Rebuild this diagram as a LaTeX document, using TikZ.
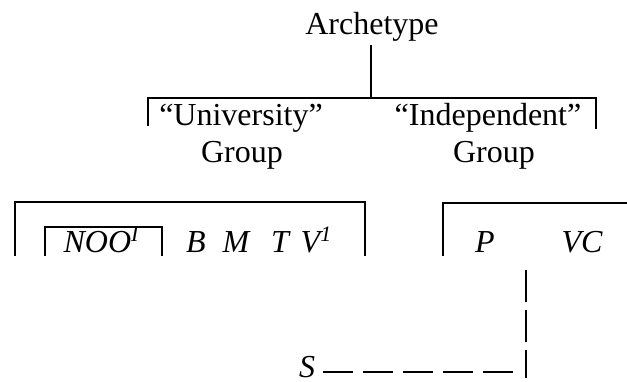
\documentclass[tikz,border=0pt]{standalone}
\usepackage{fontspec}
\setmainfont{Liberation Serif}
\newcommand{\supr}[1]{\raisebox{0.32em}{\fontsize{11}{11}\selectfont #1}}
\begin{document}
\begin{tikzpicture}[x=0.5pt,y=-0.5pt,
  lbl/.style={inner sep=0pt, font=\fontsize{16}{18.5}\selectfont, anchor=base},
  ital/.style={inner sep=0pt, font=\fontsize{16}{18.5}\selectfont\itshape, anchor=base},
  ln/.style={line width=0.8pt},
  dsh/.style={line width=0.8pt, dash pattern=on 15pt off 5pt}]
\useasboundingbox (0,0) rectangle (627,381);
% top level
\node[lbl] (arch) at (372,34) {Archetype};
\coordinate (atop) at (371,45);
\coordinate (amid) at (371,98);
\coordinate (hl) at (148,98);
\coordinate (hr) at (596,98);
\coordinate (hlb) at (148,126);
\coordinate (hrb) at (596,129);
\draw[ln] (atop) -- (amid);
\draw[ln] (hlb) -- (hl) -- (hr) -- (hrb);
\node[lbl] (univ) at (241,125) {“University”};
\node[lbl] (univg) at (242,162) {Group};
\node[lbl] (indep) at (488,125) {“Independent”};
\node[lbl] (indepg) at (494,162) {Group};
% left box
\coordinate (lb1) at (15,256);
\coordinate (lb2) at (15,202);
\coordinate (lb3) at (365,202);
\coordinate (lb4) at (365,256);
\draw[ln] (lb1) -- (lb2) -- (lb3) -- (lb4);
\coordinate (ib1) at (45,256);
\coordinate (ib2) at (45,227);
\coordinate (ib3) at (162,227);
\coordinate (ib4) at (162,256);
\draw[ln] (ib1) -- (ib2) -- (ib3) -- (ib4);
\node[ital] (noo) at (101,252) {NOO\supr{I}};
\node[ital] (b) at (196,252) {B};
\node[ital] (m) at (236,252) {M};
\node[ital] (t) at (280,252) {T};
\node[ital] (v) at (316,252) {V\supr{1}};
% right box
\coordinate (rb1) at (443,256);
\coordinate (rb2) at (443,203);
\coordinate (rb3) at (627,203);
\draw[ln] (rb1) -- (rb2) -- (rb3);
\node[ital] (p) at (485,252) {P};
\node[ital] (vc) at (582,252) {VC};
% dashed link
\node[ital] (s) at (307,377) {S};
\coordinate (dv1) at (526,270);
\coordinate (dv2) at (526,378);
\coordinate (dh1) at (323,372);
\coordinate (dh2) at (520,372);
\draw[ln, dash pattern=on 16pt off 4pt] (dv1) -- (dv2);
\draw[dsh] (dh1) -- (dh2);
\end{tikzpicture}
\end{document}
